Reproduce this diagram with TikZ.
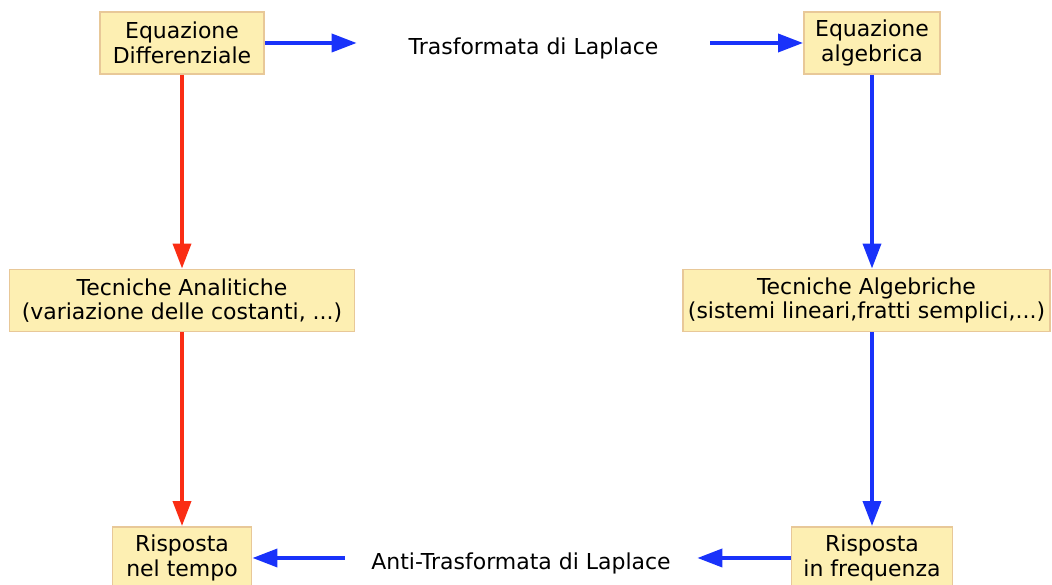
\documentclass[tikz,border=0pt]{standalone}
\usepackage{fontspec}
\setmainfont{DejaVu Sans}
\usepackage{tikz}
\usetikzlibrary{positioning,calc,arrows.meta}
\usepackage{xcolor}
\definecolor{boxfill}{RGB}{253,239,178}
\definecolor{boxline}{RGB}{232,200,152}
\definecolor{lapblue}{RGB}{25,50,250}
\definecolor{timered}{RGB}{250,45,20}

\begin{document}
\begin{tikzpicture}[
    box/.style={draw=boxline, line width=1.1pt, fill=boxfill, align=center, font=\fontsize{12.5}{14}\selectfont, minimum height=1.24cm, inner xsep=0.1cm},
    lbl/.style={font=\fontsize{12.5}{14}\selectfont, inner sep=0pt},
    bluearr/.style={-{Triangle[length=0.5cm, width=0.36cm]}, line width=2.1pt, lapblue},
    redarr/.style={-{Triangle[length=0.5cm, width=0.36cm]}, line width=2.1pt, timered}
]
\useasboundingbox (0,0) rectangle (21.04,11.7);

% Time domain column
\node[box, minimum width=3.28cm] (eqdiff) at (3.64,10.84) {Equazione\\Differenziale};
\node[box, minimum width=6.9cm] (tecan) at (3.64,5.69) {Tecniche Analitiche\\(variazione delle costanti, ...)};
\node[box, minimum width=2.78cm] (rtempo) at (3.64,0.54) {Risposta\\nel tempo};

% Frequency domain column
\node[box, minimum width=2.72cm] (eqalg) at (17.44,10.84) {Equazione\\algebrica};
\node[box, minimum width=7.34cm] (tecalg) at (17.33,5.69) {Tecniche Algebriche\\(sistemi lineari,fratti semplici,...)};
\node[box, minimum width=3.22cm] (rfreq) at (17.44,0.54) {Risposta\\in frequenza};

% Transform labels
\node[lbl, minimum width=7.06cm] (lap) at (10.67,10.74) {Trasformata di Laplace};
\node[lbl, minimum width=7.04cm] (antilap) at (10.42,0.44) {Anti-Trasformata di Laplace};

% Arrows
\draw[bluearr] (eqdiff.east) -- (eqdiff.east -| lap.west);
\draw[bluearr] (eqalg.west -| lap.east) -- (eqalg.west);
\draw[bluearr] (eqalg.south) -- (eqalg.south |- tecalg.north);
\draw[bluearr] (rfreq.north |- tecalg.south) -- (rfreq.north);
\draw[bluearr] (rfreq.west) -- (rfreq.west -| antilap.east);
\draw[bluearr] (rtempo.east -| antilap.west) -- (rtempo.east);
\draw[redarr] (eqdiff.south) -- (tecan.north);
\draw[redarr] (tecan.south) -- (rtempo.north);

\end{tikzpicture}
\end{document}
